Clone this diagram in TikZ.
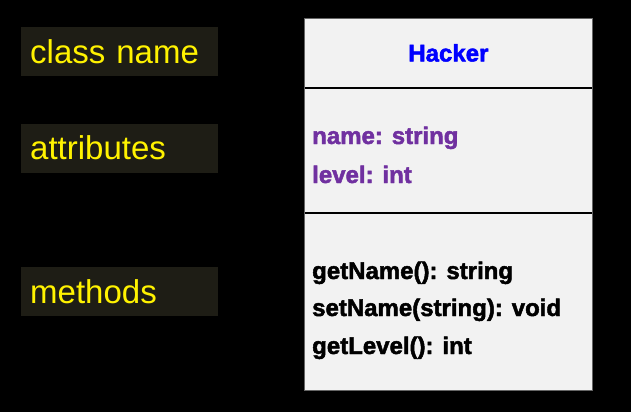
\documentclass[tikz,border=0pt]{standalone}
\usepackage{fontspec}
\setmainfont{Liberation Sans}[BoldFeatures={FakeBold=2}]
\usepackage{tikz}
\usetikzlibrary{positioning}
\definecolor{tagbg}{RGB}{30,29,21}
\definecolor{classbg}{RGB}{242,242,242}
\definecolor{attrcol}{RGB}{112,48,160}

\begin{document}
\begin{tikzpicture}[x=1pt,y=1pt,
        tag/.style={fill=tagbg,text=yellow,font=\fontsize{33}{36}\selectfont,text width=179pt,align=left,inner xsep=9pt,inner ysep=0pt,minimum height=49pt},
        part/.style={draw=black,fill=classbg,minimum width=288pt,inner sep=0pt,line width=0.8pt},
        member/.style={font=\bfseries\fontsize{24}{26}\selectfont,anchor=base west,inner sep=0pt}]
        \fill[black] (0,0) rectangle (631,-412);
        \useasboundingbox (0,0) rectangle (631,-412);
        % labels
        \node[tag,anchor=north west] (cname) at (21,-27) {class name};
        \node[tag,below=47pt of cname] (attrs) {attributes};
        \node[tag,below=94pt of attrs] (meths) {methods};
        % class box
        \node[part,anchor=north west,minimum height=69pt] (title) at (304,-18) {};
        \node[part,below=0pt of title,minimum height=124pt] (fields) {};
        \node[part,below=0pt of fields,minimum height=177pt] (ops) {};
        \draw[black!60,line width=0.8pt] (title.north west) rectangle (ops.south east);
        \node[font=\bfseries\fontsize{24}{26}\selectfont,text=blue] (hacker) at (title.center) {Hacker};
        \node[member,text=attrcol] (fname) at (312,-144) {name: string};
        \node[member,text=attrcol] (flevel) at (312,-183) {level: int};
        \node[member] (getname) at (312,-279) {getName(): string};
        \node[member] (setname) at (312,-316) {setName(string): void};
        \node[member] (getlevel) at (312,-354) {getLevel(): int};
    \end{tikzpicture}
\end{document}
